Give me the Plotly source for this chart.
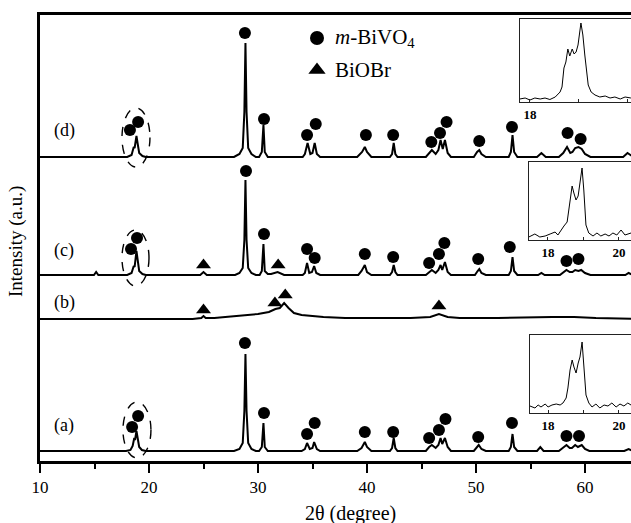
import plotly.graph_objects as go

# ---------------------------------------------------------------------------
# XRD patterns: (2theta, relative intensity above each pattern's own baseline)
# ---------------------------------------------------------------------------
pattern_a = [
    (10.0, 0), (17.9, 0), (18.3, 1), (18.5, 5), (18.65, 13), (18.72, 11), (18.85, 20),
    (18.95, 14), (19.1, 4), (19.35, 1), (19.7, 0),
    (27.8, 0), (28.3, 2), (28.6, 8), (28.75, 40), (28.85, 97), (28.95, 40), (29.1, 8),
    (29.4, 2), (29.8, 0),
    (30.1, 0), (30.35, 4), (30.5, 28), (30.62, 4), (30.9, 0),
    (34.0, 0), (34.3, 2), (34.5, 8), (34.75, 2), (35.0, 3), (35.15, 9), (35.4, 2), (35.7, 0),
    (39.1, 0), (39.5, 3), (39.8, 9), (40.0, 4), (40.4, 0),
    (42.1, 0), (42.3, 3), (42.45, 13), (42.6, 3), (42.8, 0),
    (45.4, 0), (45.7, 4), (45.95, 6), (46.3, 3), (46.55, 6), (46.75, 13), (46.9, 7),
    (47.15, 13), (47.4, 4), (47.7, 0),
    (49.8, 0), (50.1, 4), (50.25, 6), (50.5, 2), (50.9, 0),
    (53.0, 0), (53.2, 4), (53.35, 17), (53.5, 4), (53.8, 0),
    (55.6, 0), (55.9, 4), (56.2, 0),
    (57.6, 0), (58.0, 3), (58.3, 6), (58.6, 3), (58.8, 3), (59.1, 6), (59.35, 4),
    (59.7, 6), (60.0, 2), (60.4, 0),
    (63.6, 0), (64.0, 2), (64.4, 0), (65.0, 0),
]

pattern_b = [
    (10.0, 0), (20.0, 0), (24.0, 0), (24.8, 1), (25.0, 3), (25.2, 1), (26.0, 1), (27.0, 2),
    (28.0, 3), (29.0, 4), (30.0, 5), (31.0, 7), (31.6, 10), (32.0, 11), (32.4, 16),
    (32.8, 11), (33.3, 6), (34.0, 4), (35.0, 3), (36.0, 2), (38.0, 1), (40.0, 1),
    (44.0, 1), (45.8, 2), (46.6, 5), (47.4, 2), (48.5, 1), (52.0, 1), (55.0, 2),
    (57.0, 2), (59.0, 2), (61.0, 1), (65.0, 0),
]

pattern_c = [
    (10.0, 0), (14.95, 0), (15.15, 3), (15.35, 0),
    (18.0, 0), (18.4, 2), (18.6, 9), (18.68, 8), (18.85, 24), (18.95, 14), (19.1, 4),
    (19.4, 1), (19.7, 0),
    (24.7, 0), (25.0, 3), (25.3, 0),
    (27.9, 0), (28.3, 2), (28.6, 7), (28.75, 35), (28.85, 95), (28.95, 35), (29.1, 7),
    (29.4, 2), (29.8, 0),
    (30.15, 0), (30.35, 4), (30.5, 31), (30.62, 4), (30.9, 1),
    (31.2, 1), (31.8, 3), (32.4, 0),
    (34.1, 0), (34.3, 2), (34.5, 12), (34.7, 2), (34.95, 3), (35.15, 9), (35.35, 2), (35.7, 0),
    (39.2, 0), (39.5, 4), (39.8, 10), (40.0, 3), (40.4, 0),
    (42.1, 0), (42.3, 3), (42.45, 10), (42.6, 3), (42.8, 0),
    (45.4, 0), (45.7, 3), (45.95, 5), (46.3, 2), (46.55, 5), (46.75, 10), (46.9, 5),
    (47.15, 13), (47.4, 3), (47.7, 0),
    (49.9, 0), (50.15, 4), (50.3, 6), (50.5, 2), (50.9, 0),
    (53.0, 0), (53.2, 4), (53.35, 18), (53.5, 4), (53.8, 0),
    (55.7, 0), (56.0, 2), (56.3, 0),
    (57.7, 0), (58.0, 3), (58.3, 5), (58.6, 3), (58.85, 3), (59.1, 5), (59.4, 4),
    (59.65, 5), (60.0, 2), (60.5, 0),
    (63.7, 0), (64.0, 2), (64.4, 0), (65.0, 0),
]

pattern_d = [
    (10.0, 0), (18.0, 0), (18.4, 2), (18.6, 10), (18.68, 9), (18.85, 21), (18.95, 14),
    (19.1, 4), (19.4, 1), (19.7, 0),
    (27.8, 0), (28.3, 3), (28.6, 9), (28.75, 45), (28.85, 114), (28.95, 45), (29.1, 9),
    (29.4, 3), (29.8, 0),
    (30.1, 0), (30.35, 5), (30.5, 32), (30.62, 5), (30.9, 0),
    (34.1, 0), (34.3, 3), (34.55, 14), (34.8, 3), (35.0, 4), (35.2, 14), (35.4, 3), (35.7, 0),
    (39.1, 0), (39.4, 4), (39.55, 5), (39.8, 10), (40.0, 5), (40.4, 0),
    (42.1, 0), (42.3, 3), (42.45, 14), (42.6, 3), (42.8, 0),
    (45.4, 0), (45.7, 4), (45.95, 7), (46.3, 3), (46.55, 7), (46.75, 17), (46.95, 8),
    (47.15, 17), (47.4, 4), (47.7, 0),
    (49.8, 0), (50.1, 5), (50.3, 7), (50.5, 3), (50.9, 0),
    (53.0, 0), (53.2, 5), (53.35, 22), (53.5, 5), (53.8, 0),
    (55.6, 0), (56.0, 4), (56.4, 0),
    (57.6, 0), (58.0, 4), (58.35, 10), (58.65, 4), (58.85, 5), (59.1, 9), (59.4, 10),
    (59.7, 8), (60.0, 3), (60.5, 0),
    (63.5, 0), (63.9, 4), (64.3, 1), (65.0, 0),
]

# Phase markers: (2theta, height above the pattern's baseline)
bivo4_a = [(18.45, 24), (19.0, 35), (28.8, 108), (30.55, 38), (34.5, 17), (35.2, 28),
           (39.8, 19), (42.4, 19), (45.7, 13), (46.6, 21), (47.2, 32), (50.2, 14),
           (53.3, 28), (58.3, 15), (59.45, 15)]
bivo4_c = [(18.35, 26), (18.9, 37), (28.9, 104), (30.55, 41), (34.5, 26), (35.2, 17),
           (39.8, 21), (42.4, 18), (45.7, 12), (46.6, 21), (47.1, 32), (50.2, 16),
           (53.1, 28), (58.3, 14), (59.4, 16)]
bivo4_d = [(18.25, 27), (19.0, 35), (28.8, 124), (30.55, 38), (34.5, 22), (35.3, 33),
           (39.9, 22), (42.4, 22), (45.9, 15), (46.7, 24), (47.3, 35), (50.3, 16),
           (53.3, 30), (58.4, 24), (59.6, 18)]
biobr_b = [(25.0, 9), (31.55, 16), (32.5, 24), (46.6, 13)]
biobr_c = [(25.0, 10), (31.85, 10)]

# Enlarged 18-20 degree region for patterns (d), (c) and (a)
inset_d = [(17.79, 3), (17.9, 4), (18.0, 2), (18.1, 4), (18.21, 3), (18.31, 4), (18.41, 2.5),
           (18.52, 5), (18.62, 10), (18.66, 15), (18.70, 34), (18.74, 40), (18.78, 53),
           (18.82, 46), (18.87, 53), (18.91, 48), (18.95, 50), (18.99, 57), (19.05, 79),
           (19.09, 67), (19.13, 47), (19.20, 17), (19.26, 10), (19.34, 7), (19.44, 5),
           (19.55, 6), (19.65, 4), (19.75, 5), (19.86, 3), (19.96, 5), (20.08, 4)]
inset_c = [(17.46, 3), (17.63, 6), (17.77, 3), (17.92, 4), (18.06, 6), (18.2, 8), (18.28, 5),
           (18.37, 10), (18.45, 14), (18.54, 18), (18.62, 40), (18.68, 54), (18.73, 47),
           (18.79, 40), (18.85, 44), (18.9, 58), (18.96, 72), (19.01, 50), (19.07, 15),
           (19.15, 7), (19.27, 4), (19.38, 7), (19.49, 4), (19.61, 6), (19.72, 4),
           (19.83, 7), (19.94, 5), (20.06, 10), (20.17, 5), (20.34, 7)]
inset_a = [(17.49, 7), (17.63, 5), (17.72, 8), (17.8, 6), (17.92, 9), (18.0, 6), (18.11, 8),
           (18.23, 9), (18.34, 8), (18.42, 10), (18.51, 15), (18.56, 25), (18.62, 43),
           (18.68, 53), (18.73, 46), (18.79, 40), (18.85, 50), (18.9, 56), (18.96, 71),
           (19.01, 43), (19.07, 18), (19.15, 10), (19.24, 6), (19.35, 9), (19.46, 5),
           (19.58, 8), (19.69, 7), (19.8, 10), (19.92, 6), (20.03, 9), (20.14, 7),
           (20.25, 10), (20.34, 8)]

sample_labels = ["(a)", "(b)", "(c)", "(d)"]
inset_ticks = [18, 19, 20]
inset_ticktext = ["<b>18</b>", "", "<b>20</b>"]

# ---------------------------------------------------------------------------
# Layout constants
# ---------------------------------------------------------------------------
W, H = 631, 523
ML, MT, MB = 40, 15, 62
PW, PH = W - ML, H - MT - MB          # plot area in px
X0, PX_PER_DEG = 10.0, 10.9
X1 = X0 + PW / PX_PER_DEG
FONT = "Liberation Serif"

offsets = {"a": 10, "b": 142, "c": 186, "d": 304}


def px_to_y(py):
    """Vertical page pixel -> main-axis value."""
    return (H - MB) - py


def px_to_xpaper(px):
    return (px - ML) / PW


def px_to_ypaper(py):
    return ((H - MB) - py) / PH


fig = go.Figure()

line_style = dict(color="black", width=2)
for key, pat in (("a", pattern_a), ("b", pattern_b), ("c", pattern_c), ("d", pattern_d)):
    fig.add_trace(go.Scatter(
        x=[p[0] for p in pat], y=[p[1] + offsets[key] for p in pat],
        mode="lines", line=line_style, hoverinfo="skip", showlegend=False))

for key, marks in (("a", bivo4_a), ("c", bivo4_c), ("d", bivo4_d)):
    fig.add_trace(go.Scatter(
        x=[m[0] for m in marks], y=[m[1] + offsets[key] for m in marks],
        mode="markers", marker=dict(symbol="circle", size=12, color="black"),
        hoverinfo="skip", showlegend=False))

for key, marks in (("b", biobr_b), ("c", biobr_c)):
    fig.add_trace(go.Scatter(
        x=[m[0] for m in marks], y=[m[1] + offsets[key] for m in marks],
        mode="markers", marker=dict(symbol="triangle-up", size=13, color="black"),
        hoverinfo="skip", showlegend=False))

# Key: circle = m-BiVO4, triangle = BiOBr
key_x = X0 + (317 - ML) / PX_PER_DEG
fig.add_trace(go.Scatter(x=[key_x], y=[px_to_y(38)], mode="markers",
                         marker=dict(symbol="circle", size=14, color="black"),
                         hoverinfo="skip", showlegend=False))
fig.add_trace(go.Scatter(x=[key_x], y=[px_to_y(70)], mode="markers",
                         marker=dict(symbol="triangle-up", size=15, color="black"),
                         hoverinfo="skip", showlegend=False))

# Dashed ellipses around the 18.8 degree doublet
ellipses = [
    (17.52, 20.09, px_to_y(167), px_to_y(108)),
    (17.52, 20.00, px_to_y(286), px_to_y(230)),
    (17.61, 20.18, px_to_y(458), px_to_y(402)),
]
for x0, x1, y0, y1 in ellipses:
    fig.add_shape(type="circle", xref="x", yref="y", x0=x0, x1=x1, y0=y0, y1=y1,
                  line=dict(color="black", width=1.4, dash="dash"))

# Insets
insets = [
    # data, axis index, left px, top px, bottom px, x-range
    (inset_d, 2, 520, 19, 102, [17.794, 20.082]),
    (inset_c, 3, 529, 162, 240, [17.465, 20.34]),
    (inset_a, 4, 530, 335, 413, [17.49, 20.34]),
]
for data, idx, left, top, bottom, xr in insets:
    fig.add_trace(go.Scatter(
        x=[p[0] for p in data], y=[p[1] for p in data],
        xaxis=f"x{idx}", yaxis=f"y{idx}", mode="lines",
        line=dict(color="black", width=1), hoverinfo="skip", showlegend=False))
    fig.update_layout(**{
        f"xaxis{idx}": dict(
            domain=[px_to_xpaper(left), 1.0], anchor=f"y{idx}", range=xr,
            showline=True, linecolor="#222", linewidth=1, mirror=True,
            showgrid=False, zeroline=False,
            tickvals=inset_ticks, ticktext=inset_ticktext,
            ticks="inside", ticklen=3, tickwidth=1, tickcolor="#222",
            tickfont=dict(family=FONT, size=13, color="black")),
        f"yaxis{idx}": dict(
            domain=[px_to_ypaper(bottom), px_to_ypaper(top)], anchor=f"x{idx}",
            range=[0, bottom - top], showline=True, linecolor="#222", linewidth=1,
            showgrid=False, zeroline=False, showticklabels=False, ticks=""),
    })

annotations = [
    dict(text="<i>m</i>-BiVO<sub>4</sub>", x=px_to_xpaper(333), y=px_to_ypaper(38),
         xanchor="left", yanchor="middle", font=dict(size=21)),
    dict(text="BiOBr", x=px_to_xpaper(333), y=px_to_ypaper(70),
         xanchor="left", yanchor="middle", font=dict(size=21)),
    dict(text="Intensity (a.u.)", x=px_to_xpaper(16), y=px_to_ypaper(242),
         textangle=-90, xanchor="center", yanchor="middle", font=dict(size=19)),
    dict(text="2θ (degree)", x=px_to_xpaper(350), y=px_to_ypaper(513),
         xanchor="center", yanchor="middle", font=dict(size=20)),
]
for lab, py in zip(sample_labels, [425, 302, 250, 130]):
    annotations.append(dict(text=lab, x=px_to_xpaper(64), y=px_to_ypaper(py),
                            xanchor="center", yanchor="middle", font=dict(size=18)))
for a in annotations:
    a.update(xref="paper", yref="paper", showarrow=False)
    a.setdefault("font", {})
    a["font"].update(family=FONT, color="black")

fig.update_layout(
    width=W, height=H,
    margin=dict(l=ML, r=0, t=MT, b=MB, pad=0),
    paper_bgcolor="white", plot_bgcolor="white",
    font=dict(family=FONT, color="black"),
    showlegend=False,
    annotations=annotations,
    xaxis=dict(
        range=[X0, X1], showgrid=False, zeroline=False,
        showline=True, linecolor="black", linewidth=3, mirror=True,
        tickvals=[10, 20, 30, 40, 50, 60], ticks="outside", ticklen=9, tickwidth=2,
        tickcolor="black", tickfont=dict(family=FONT, size=17, color="black"),
        minor=dict(dtick=5, tick0=10, ticks="outside", ticklen=5, tickwidth=2,
                   tickcolor="black"),
    ),
    yaxis=dict(
        range=[0, PH], showgrid=False, zeroline=False, showticklabels=False,
        showline=True, linecolor="black", linewidth=3, ticks="",
    ),
)

fig.write_html("out.html")
